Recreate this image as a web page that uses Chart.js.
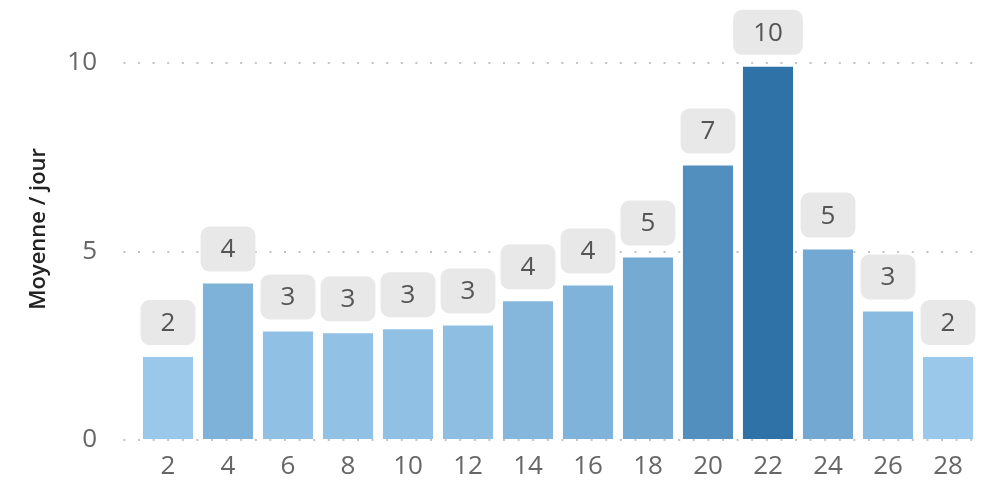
<!DOCTYPE html>
<html>
<head>
<meta charset="utf-8">
<script src="https://cdn.jsdelivr.net/npm/chart.js@4"></script>
<style>
  body { margin: 0; background: #fff; }
  #wrap { width: 1002px; height: 482px; }
</style>
</head>
<body>
<div id="wrap"><canvas id="myChart" width="1002" height="482"></canvas></div>
<script>
var jours = ['2', '4', '6', '8', '10', '12', '14', '16', '18', '20', '22', '24', '26', '28'];
var moyennes = [2.2, 4.15, 2.88, 2.83, 2.94, 3.04, 3.68, 4.1, 4.84, 7.28, 9.9, 5.05, 3.41, 2.2];
var yTicks = [0, 5, 10];
var titreY = 'Moyenne / jour';

// couleur selon la valeur (clair -> fonce)
function couleur(v) {
    var lo = [154, 200, 234], hi = [46, 114, 168];
    var min = Math.min.apply(null, moyennes), max = Math.max.apply(null, moyennes);
    var t = (v - min) / (max - min);
    var c = lo.map(function(a, i){ return Math.round(a + (hi[i] - a) * t); });
    return 'rgb(' + c.join(',') + ')';
}

/*etiquettes grises au dessus des barres + titre de l'axe*/
var etiquettes = {
    id: 'etiquettes',
    afterDatasetsDraw: function(chart) {
        var ctx = chart.ctx;
        var meta = chart.getDatasetMeta(0);
        ctx.save();
        ctx.font = '26px "Open Sans"';
        ctx.textAlign = 'center';
        ctx.textBaseline = 'middle';
        meta.data.forEach(function(bar, i) {
            var txt = String(Math.round(moyennes[i]));
            var w = ctx.measureText(txt).width + 40;
            var h = 45;
            var x = bar.x - w / 2;
            var y = bar.y - 12 - h;
            ctx.fillStyle = '#e8e8e8';
            ctx.beginPath();
            ctx.roundRect(x, y, w, h, 9);
            ctx.fill();
            ctx.fillStyle = '#555';
            ctx.fillText(txt, bar.x, y + h / 2 + 1);
        });
        // titre vertical
        ctx.translate(39, chart.chartArea.top + (chart.chartArea.bottom - chart.chartArea.top) * 0.44);
        ctx.rotate(-Math.PI / 2);
        ctx.font = '600 22px "Open Sans"';
        ctx.fillStyle = '#222';
        ctx.fillText(titreY, 0, 0);
        ctx.restore();
    }
};

var ctx = document.getElementById('myChart').getContext('2d');
var myChart = new Chart(ctx, {
    type: 'bar',
    data: {
        labels: jours,
        datasets: [{
            label: titreY,
            data: moyennes,
            backgroundColor: moyennes.map(couleur),
            barPercentage: 0.835,
            categoryPercentage: 1
        }]
    },
    options: {
        responsive: false,
        animation: false,
        layout: { padding: { top: 63, right: 24, left: 0, bottom: 0 } },
        plugins: { legend: { display: false }, tooltip: { enabled: false } },
        scales: {
            x: {
                afterFit: function(scale) { scale.height = 42; },
                grid: { display: false, drawTicks: false },
                border: { display: false },
                ticks: { color: '#666', font: { family: 'Open Sans', size: 26 }, padding: 11 }
            },
            y: {
                min: 0,
                max: 10,
                afterFit: function(scale) { scale.width = 138; },
                afterBuildTicks: function(scale) {
                    scale.ticks = yTicks.map(function(v){ return { value: v }; });
                },
                border: { display: false, dash: [2, 12.6] },
                grid: { color: '#c4c4c4', lineWidth: 2, tickLength: 18, tickColor: '#c4c4c4', tickBorderDash: [2, 12.6], tickBorderDashOffset: 11.2 },
                ticks: { color: '#666', font: { family: 'Open Sans', size: 26 }, padding: 23 }
            }
        }
    },
    plugins: [etiquettes]
});
</script>
</body>
</html>
